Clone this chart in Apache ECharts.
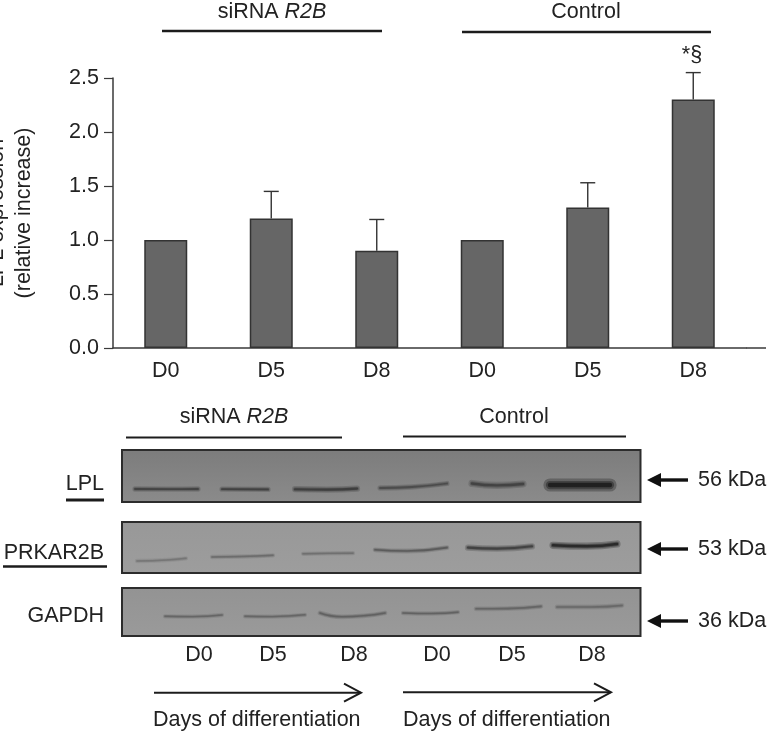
<!DOCTYPE html>
<html><head><meta charset="utf-8">
<style>html,body{margin:0;padding:0;background:#fff}#c{width:767px;height:732px}</style>
<script src="https://cdn.jsdelivr.net/npm/echarts@6/dist/echarts.min.js"></script>
</head><body><div id="c"></div>
<script>
// ---- bar chart data
const categories = ['D0','D5','D8','D0','D5','D8'];
const expression = [1.0,1.2,0.9,1.0,1.3,2.3];
const errorTop = [null,1.45,1.19,null,1.53,2.55];
const yTicks = [0,0.5,1,1.5,2,2.5];
// ---- blot bands: each band is a list of [position along gel, depth in panel]
const lplBands = [
 [[13,39],[45,39.2],[76,39]],
 [[100,39.2],[146,39.4]],
 [[173,39.2],[205,39.6],[235,38.6]],
 [[258,38],[290,37],[325,33.5]],
 [[350,33.5],[375,35.4],[401,34]],
 [[428,35],[488,35]]
];
const prkarBands = [
 [[15,39],[45,38],[64,36.3]],
 [[90,35],[120,34.5],[151,33.3]],
 [[181,31.8],[205,31.4],[231,31.2]],
 [[253,27.8],[285,29],[325,25.6]],
 [[346,25.6],[375,26.6],[410,24.3]],
 [[431,23.3],[465,24.2],[495,22]]
];
const gapdhBands = [
 [[43,28.3],[70,28.6],[100,27]],
 [[123,28.3],[150,28.6],[183,26.8]],
 [[198,25],[220,28.8],[263,25]],
 [[281,25],[310,25.5],[336,24.2]],
 [[354,20.8],[385,20.6],[419,18.4]],
 [[435,19],[470,19],[500,17.5]]
];
const lplStrength = [0.42,0.45,0.5,0.32,0.42,1];
const prkarStrength = [0.03,0.12,0.08,0.26,0.55,0.9];
const gapdhStrength = [0.14,0.14,0.18,0.17,0.14,0.12];
const blotNames = ['LPL','PRKAR2B','GAPDH'];
const kdaLabels = ['56 kDa','53 kDa','36 kDa'];
const laneLabels = ['D0','D5','D8','D0','D5','D8'];

const FONT = '"Liberation Sans", Arial, sans-serif';
const FS = 21.5, INK = '#222';
const chart = echarts.init(document.getElementById('c'), null, {renderer:'canvas'});
const LG = echarts.graphic.LinearGradient;

const panels = [
 {top:450,h:52,grad:['#7c7c7c','#8b8b8b'],bands:lplBands,str:lplStrength,widths:[2.2,2.2,2.6,2.2,3,5.5]},
 {top:522,h:51,grad:['#989898','#9d9d9d'],bands:prkarBands,str:prkarStrength,widths:[1.8,1.8,1.8,2,2.6,3]},
 {top:588,h:48,grad:['#939393','#9a9a9a'],bands:gapdhBands,str:gapdhStrength,widths:[1.8,1.8,2,1.8,2,2]}
];
const grids=[{left:113,top:78,width:633,height:270,show:false,outerBoundsMode:'none'}];
const xAxes=[{type:'category',gridIndex:0,data:categories,
  axisLine:{lineStyle:{color:'#3a3a3a',width:1.5}},axisTick:{show:false},
  axisLabel:{color:INK,fontFamily:FONT,fontSize:FS,margin:12}}];
const yAxes=[{type:'value',gridIndex:0,min:0,max:2.5,interval:0.5,
  name:'LPL expression\n(relative increase)',nameLocation:'middle',nameRotate:90,nameGap:75,
  nameTextStyle:{color:INK,fontFamily:FONT,fontSize:FS,lineHeight:27},
  splitLine:{show:false},
  axisLine:{show:true,lineStyle:{color:'#3a3a3a',width:1.5}},
  axisTick:{show:true,length:9,lineStyle:{color:'#3a3a3a',width:1.2}},
  axisLabel:{color:INK,fontFamily:FONT,fontSize:FS,margin:14,formatter:v=>v.toFixed(1)}}];
const series=[
 {type:'bar',xAxisIndex:0,yAxisIndex:0,data:expression,barWidth:43,silent:true,
  itemStyle:{color:'#666666',borderColor:'#333333',borderWidth:1.5}},
 {type:'custom',xAxisIndex:0,yAxisIndex:0,silent:true,z:1,
  data:errorTop.map((v,i)=>v==null?null:[i,expression[i],v]).filter(Boolean),
  encode:{x:0,y:[1,2]},
  renderItem(p,api){
    const a=api.coord([api.value(0),api.value(1)]),b=api.coord([api.value(0),api.value(2)]);
    const st={stroke:'#333',lineWidth:1.4,fill:null};
    return {type:'group',children:[
      {type:'line',shape:{x1:a[0],y1:a[1],x2:a[0],y2:b[1]},style:st},
      {type:'line',shape:{x1:a[0]-7.5,y1:b[1],x2:a[0]+7.5,y2:b[1]},style:st}]};
  }}
];
panels.forEach((p,k)=>{
  const g=k+1;
  grids.push({left:122,top:p.top,width:518.5,height:p.h,show:true,borderColor:'#2c2c2c',borderWidth:2,outerBoundsMode:'none',
    backgroundColor:new LG(0,0,0,1,[{offset:0,color:p.grad[0]},{offset:1,color:p.grad[1]}])});
  xAxes.push({type:'value',gridIndex:g,min:0,max:518.5,show:false});
  yAxes.push({type:'value',gridIndex:g,min:0,max:p.h,inverse:true,show:false});
  p.bands.forEach((b,i)=>{
    const al=0.2+0.8*p.str[i];
    [[2.4,al*0.28],[1.5,al*0.35],[0.8,al*0.6]].forEach(([wk,a])=>{
      const col=`rgba(10,10,10,${a})`;
      series.push({type:'line',xAxisIndex:g,yAxisIndex:g,data:b,smooth:true,symbol:'none',silent:true,
        lineStyle:{color:col,width:p.widths[i]*wk,cap:'round'}});
    });
  });
});

const T=(x,y,text,align,extra)=>({type:'text',silent:true,style:Object.assign({x,y,text,font:`${FS}px ${FONT}`,fontFamily:FONT,fontSize:FS,fill:INK,align:align||'center',verticalAlign:'middle'},extra||{})});
const L=(x1,y1,x2,y2,w,c)=>({type:'line',silent:true,shape:{x1,y1,x2,y2},style:{stroke:c||'#1c1c1c',lineWidth:w}});
const italicRich={a:{fontFamily:FONT,fontSize:FS,fill:INK,color:INK},b:{fontFamily:FONT,fontSize:FS,fontStyle:'italic',fill:INK,color:INK}};
const siRNA=(x,y)=>T(x,y,'{a|siRNA }{b|R2B}','center',{rich:italicRich});
const gfx=[
 L(746,348,766,348,1.5,'#3a3a3a'),
 siRNA(272,12), T(586,12,'Control'), L(162,31,382,31,2.6), L(462,32,711,32,2.6),
 T(692,55,'*§'),
 siRNA(234,417), T(514,417,'Control'), L(126,437.5,342,437.5,2.2), L(403,436.5,626,436.5,2.2),
 T(104,484,blotNames[0],'right'), L(66,500,104,500,3),
 T(104,553,blotNames[1],'right'), L(3,566.5,107,566.5,2.6),
 T(104,616,blotNames[2],'right')
];
[480,549,621].forEach((y,i)=>{
  gfx.push(L(656,y,688,y,3.4,'#111'));
  gfx.push({type:'polygon',silent:true,shape:{points:[[647,y],[661,y-7],[661,y+7]]},style:{fill:'#111'}});
  gfx.push(T(698,y,kdaLabels[i],'left'));
});
[199,273,354,437,512,592].forEach((x,i)=>gfx.push(T(x,655,laneLabels[i])));
[[154,361,692.7,153],[403,611,692.3,403]].forEach(a=>{
  gfx.push(L(a[0],a[2],a[1],a[2],2));
  gfx.push({type:'polyline',silent:true,shape:{points:[[a[1]-17,a[2]-9],[a[1],a[2]],[a[1]-17,a[2]+9]]},style:{stroke:'#1c1c1c',lineWidth:2,fill:null}});
  gfx.push(T(a[3],720,'Days of differentiation','left'));
});

chart.setOption({animation:false,backgroundColor:'#fff',grid:grids,xAxis:xAxes,yAxis:yAxes,series,graphic:gfx});
</script></body></html>
